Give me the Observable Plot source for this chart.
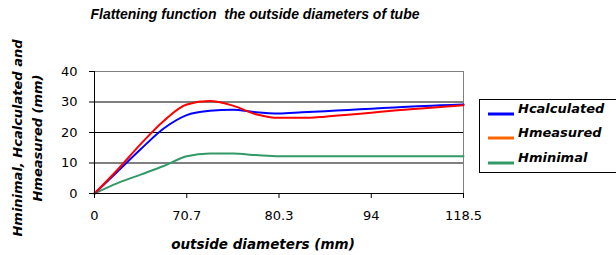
<!DOCTYPE html>
<html>
<head>
<meta charset="utf-8">
<script src="https://cdn.jsdelivr.net/npm/d3@7"></script>
<script src="https://cdn.jsdelivr.net/npm/@observablehq/plot@0.6"></script>
<style>
  html, body { margin: 0; padding: 0; background: #fff; }
  svg { display: block; }
</style>
</head>
<body>
<div id="chart"></div>
<script>
// Category axis labels (every 4th sample position)
const xTickLabels = ["0", "70.7", "80.3", "94", "118.5"];
// Sample positions along the category axis
const sampleIndex = [0,1,2,3,4,5,6,7,8,9,10,11,12,13,14,15,16];
const hCalculated = [0, 7.2, 14.5, 21.3, 25.7, 27.1, 27.5, 26.6, 26.2, 26.6, 27.0, 27.4, 27.8, 28.2, 28.6, 28.9, 29.2];
const hMeasured   = [0, 7.8, 16.2, 23.8, 29.2, 30.3, 28.8, 26.0, 24.8, 24.8, 25.2, 25.8, 26.5, 27.2, 27.8, 28.4, 28.9];
const hMinimal    = [0, 3.4, 6.2, 9.0, 12.2, 13.1, 13.1, 12.6, 12.2, 12.2, 12.2, 12.2, 12.2, 12.2, 12.2, 12.2, 12.2];
const seriesNames = ["Hcalculated", "Hmeasured", "Hminimal"];
const lineColors = ["#0000FF", "#FF0000", "#339966"];
const legendColors = ["#0000FF", "#FF6600", "#339966"];

const rows = (vals, name) => sampleIndex.map((x, i) => ({x, y: vals[i], name}));
const dCalc = rows(hCalculated, "Hcalculated");
const dMeas = rows(hMeasured, "Hmeasured");
const dMin = rows(hMinimal, "Hminimal");

const tickPos = xTickLabels.map((_, i) => i * 4);

const chart = Plot.plot({
  width: 616,
  height: 255,
  marginLeft: 94,
  marginRight: 153,
  marginTop: 71,
  marginBottom: 62,
  style: {fontFamily: "DejaVu Sans, sans-serif", fontSize: "13px", color: "#000", background: "#fff"},
  x: {domain: [0, 16]},
  y: {domain: [0, 40]},
  marks: [
    Plot.frame({stroke: "#808080"}),
    Plot.ruleY([10, 20, 30], {stroke: "#000", strokeWidth: 1}),
    Plot.line(dMin, {x: "x", y: "y", stroke: lineColors[2], strokeWidth: 2, curve: "monotone-x"}),
    Plot.line(dCalc, {x: "x", y: "y", stroke: lineColors[0], strokeWidth: 2, curve: "monotone-x"}),
    Plot.line(dMeas, {x: "x", y: "y", stroke: lineColors[1], strokeWidth: 2, curve: "monotone-x"}),
    Plot.ruleY([0], {stroke: "#000"}),
    Plot.ruleX([0], {stroke: "#000"}),
    Plot.axisY({ticks: [0, 10, 20, 30, 40], tickSize: 5, tickPadding: 12, label: null, fontSize: 13}),
    Plot.axisX({ticks: tickPos, tickFormat: (d) => xTickLabels[d / 4], tickSize: 5, tickPadding: 12, label: null, fontSize: 13})
  ]
});

document.getElementById("chart").appendChild(chart);

const svg = d3.select(chart);
const labelFont = "DejaVu Sans, Verdana, sans-serif";

svg.append("text")
  .attr("x", 255).attr("y", 19)
  .attr("text-anchor", "middle")
  .attr("font-family", "Liberation Sans, Arial, sans-serif")
  .attr("font-size", 14).attr("font-style", "italic").attr("font-weight", "bold")
  .attr("fill", "#000")
  .text("Flattening function  the outside diameters of tube");

svg.append("text")
  .attr("x", 263).attr("y", 249)
  .attr("text-anchor", "middle")
  .attr("font-family", labelFont)
  .attr("font-size", 13.5).attr("font-style", "italic").attr("font-weight", "bold")
  .attr("fill", "#000")
  .text("outside diameters (mm)");

const yl = svg.append("text")
  .attr("transform", "translate(22,138) rotate(-90)")
  .attr("text-anchor", "middle")
  .attr("font-family", labelFont)
  .attr("font-size", 13).attr("font-style", "italic").attr("font-weight", "bold")
  .attr("fill", "#000");
yl.append("tspan").attr("x", 0).attr("y", 0).text("Hminimal, Hcalculated and");
yl.append("tspan").attr("x", 0).attr("y", 20).text("Hmeasured (mm)");

const lg = svg.append("g").attr("text-anchor", "start");
lg.append("rect")
  .attr("x", 479.5).attr("y", 99.5).attr("width", 150).attr("height", 73)
  .attr("fill", "#fff").attr("stroke", "#000");
const baselines = [113, 137, 162];
seriesNames.forEach((n, i) => {
  lg.append("line")
    .attr("x1", 488).attr("x2", 514)
    .attr("y1", baselines[i] + 1).attr("y2", baselines[i] + 1)
    .attr("stroke", legendColors[i]).attr("stroke-width", 3);
  lg.append("text")
    .attr("x", 518).attr("y", baselines[i])
    .attr("text-anchor", "start")
    .attr("font-family", labelFont)
    .attr("font-size", 13).attr("font-style", "italic").attr("font-weight", "bold")
    .attr("fill", "#000")
    .text(n);
});
</script>
</body>
</html>
